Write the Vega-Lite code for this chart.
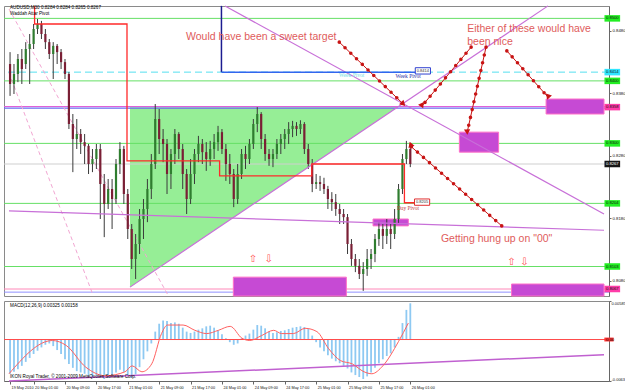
{
  "$schema": "https://vega.github.io/schema/vega-lite/v6.json",
  "padding": {"left": 2, "top": 2, "right": 0, "bottom": 0},
  "bounds": "flush",
  "spacing": 5,
  "background": "white",
  "config": {
    "view": {"stroke": "#8a8a8a", "strokeWidth": 1},
    "axis": {"labelFont": "Liberation Sans", "labelFontSize": 4.3, "labelColor": "#111", "domainColor": "#666", "tickColor": "#666", "tickSize": 2, "grid": false, "labelOverlap": false}
  },
  "datasets": {
    "candles": [
      {"t":-6,"o":0.8427,"h":0.8446,"l":0.8376,"c":0.8395},{"t":-5,"o":0.8395,"h":0.8427,"l":0.8379,"c":0.8411},{"t":-4,"o":0.8411,"h":0.8443,"l":0.8398,"c":0.8435},{"t":-3,"o":0.8435,"h":0.8451,"l":0.8395,"c":0.8419},{"t":-2,"o":0.8427,"h":0.8462,"l":0.8419,"c":0.8451},{"t":-1,"o":0.8451,"h":0.8475,"l":0.8395,"c":0.8459},
      {"t":0,"o":0.8459,"h":0.8491,"l":0.8451,"c":0.8483},{"t":1,"o":0.8483,"h":0.8499,"l":0.8475,"c":0.8491},{"t":2,"o":0.8491,"h":0.8496,"l":0.8467,"c":0.8475},{"t":3,"o":0.8475,"h":0.8483,"l":0.8451,"c":0.8462},{"t":4,"o":0.8462,"h":0.8467,"l":0.8435,"c":0.8443},{"t":5,"o":0.8443,"h":0.8462,"l":0.8403,"c":0.8456},{"t":6,"o":0.8456,"h":0.8459,"l":0.8427,"c":0.8446},{"t":7,"o":0.8446,"h":0.8451,"l":0.8419,"c":0.843},{"t":8,"o":0.843,"h":0.8435,"l":0.8403,"c":0.8411},{"t":9,"o":0.8411,"h":0.8414,"l":0.8323,"c":0.8331},
      {"t":10,"o":0.8331,"h":0.8347,"l":0.8254,"c":0.8307},{"t":11,"o":0.8307,"h":0.8339,"l":0.8291,"c":0.8315},{"t":12,"o":0.8315,"h":0.8323,"l":0.8283,"c":0.8302},{"t":13,"o":0.8302,"h":0.8315,"l":0.8267,"c":0.8296},{"t":14,"o":0.8296,"h":0.8299,"l":0.8251,"c":0.8267},{"t":15,"o":0.8267,"h":0.8291,"l":0.8254,"c":0.8275},{"t":16,"o":0.8275,"h":0.8299,"l":0.8259,"c":0.8291},{"t":17,"o":0.8291,"h":0.8299,"l":0.8179,"c":0.8235},{"t":18,"o":0.8235,"h":0.8251,"l":0.815,"c":0.8203},{"t":19,"o":0.8203,"h":0.8243,"l":0.8195,"c":0.8227},
      {"t":20,"o":0.8227,"h":0.8243,"l":0.8163,"c":0.8211},{"t":21,"o":0.8211,"h":0.8275,"l":0.8203,"c":0.8267},{"t":22,"o":0.8267,"h":0.8302,"l":0.8251,"c":0.8291},{"t":23,"o":0.8291,"h":0.8296,"l":0.8203,"c":0.8219},{"t":24,"o":0.8219,"h":0.8227,"l":0.8147,"c":0.8163},{"t":25,"o":0.8163,"h":0.8171,"l":0.8099,"c":0.8115},{"t":26,"o":0.8115,"h":0.8155,"l":0.8083,"c":0.8139},{"t":27,"o":0.8139,"h":0.8195,"l":0.8123,"c":0.8179},{"t":28,"o":0.8179,"h":0.8211,"l":0.8147,"c":0.8195},{"t":29,"o":0.8195,"h":0.8243,"l":0.8174,"c":0.8227},
      {"t":30,"o":0.8227,"h":0.8283,"l":0.8211,"c":0.8267},{"t":31,"o":0.8267,"h":0.8363,"l":0.8259,"c":0.8339},{"t":32,"o":0.8339,"h":0.8355,"l":0.8283,"c":0.8307},{"t":33,"o":0.8307,"h":0.8323,"l":0.827,"c":0.8299},{"t":34,"o":0.8299,"h":0.8307,"l":0.8219,"c":0.8251},{"t":35,"o":0.8251,"h":0.8291,"l":0.8227,"c":0.8283},{"t":36,"o":0.8283,"h":0.8323,"l":0.8267,"c":0.8315},{"t":37,"o":0.8315,"h":0.8318,"l":0.8275,"c":0.8291},{"t":38,"o":0.8291,"h":0.8299,"l":0.8227,"c":0.8251},{"t":39,"o":0.8251,"h":0.8259,"l":0.8187,"c":0.8211},
      {"t":40,"o":0.8211,"h":0.8275,"l":0.8203,"c":0.8251},{"t":41,"o":0.8251,"h":0.8291,"l":0.8235,"c":0.8283},{"t":42,"o":0.8283,"h":0.8312,"l":0.827,"c":0.8299},{"t":43,"o":0.8299,"h":0.8307,"l":0.8267,"c":0.8286},{"t":44,"o":0.8286,"h":0.8302,"l":0.8256,"c":0.8275},{"t":45,"o":0.8275,"h":0.8304,"l":0.8264,"c":0.8291},{"t":46,"o":0.8291,"h":0.8315,"l":0.8275,"c":0.8302},{"t":47,"o":0.8302,"h":0.8328,"l":0.8288,"c":0.8318},{"t":48,"o":0.8318,"h":0.8323,"l":0.8283,"c":0.8291},{"t":49,"o":0.8291,"h":0.8299,"l":0.824,"c":0.8267},
      {"t":50,"o":0.8267,"h":0.8283,"l":0.8235,"c":0.8251},{"t":51,"o":0.8251,"h":0.8259,"l":0.8198,"c":0.8211},{"t":52,"o":0.8211,"h":0.8267,"l":0.8203,"c":0.8251},{"t":53,"o":0.8251,"h":0.8291,"l":0.8243,"c":0.8283},{"t":54,"o":0.8283,"h":0.8296,"l":0.8259,"c":0.8275},{"t":55,"o":0.8275,"h":0.8307,"l":0.8267,"c":0.8299},{"t":56,"o":0.8299,"h":0.8339,"l":0.8291,"c":0.8331},{"t":57,"o":0.8331,"h":0.8358,"l":0.8318,"c":0.8347},{"t":58,"o":0.8347,"h":0.835,"l":0.8291,"c":0.8307},{"t":59,"o":0.8307,"h":0.8315,"l":0.8272,"c":0.8283},
      {"t":60,"o":0.8283,"h":0.8291,"l":0.8264,"c":0.8275},{"t":61,"o":0.8275,"h":0.8291,"l":0.8262,"c":0.8283},{"t":62,"o":0.8283,"h":0.8307,"l":0.8275,"c":0.8299},{"t":63,"o":0.8299,"h":0.8315,"l":0.8283,"c":0.8307},{"t":64,"o":0.8307,"h":0.8323,"l":0.8291,"c":0.8315},{"t":65,"o":0.8315,"h":0.8334,"l":0.8299,"c":0.8323},{"t":66,"o":0.8323,"h":0.8336,"l":0.831,"c":0.8328},{"t":67,"o":0.8328,"h":0.8334,"l":0.8312,"c":0.8323},{"t":68,"o":0.8323,"h":0.8337,"l":0.8315,"c":0.8331},{"t":69,"o":0.8331,"h":0.8334,"l":0.8283,"c":0.8291},
      {"t":70,"o":0.8291,"h":0.8299,"l":0.8259,"c":0.8267},{"t":71,"o":0.8267,"h":0.8275,"l":0.8222,"c":0.8235},{"t":72,"o":0.8235,"h":0.8251,"l":0.8227,"c":0.8238},{"t":73,"o":0.8238,"h":0.8248,"l":0.8224,"c":0.8235},{"t":74,"o":0.8235,"h":0.8245,"l":0.8219,"c":0.8227},{"t":75,"o":0.8227,"h":0.8232,"l":0.8195,"c":0.8211},{"t":76,"o":0.8211,"h":0.8222,"l":0.8192,"c":0.8206},{"t":77,"o":0.8206,"h":0.8219,"l":0.8184,"c":0.8195},{"t":78,"o":0.8195,"h":0.8203,"l":0.8171,"c":0.8187},{"t":79,"o":0.8187,"h":0.8195,"l":0.8171,"c":0.8182},
      {"t":80,"o":0.8182,"h":0.8187,"l":0.8123,"c":0.8139},{"t":81,"o":0.8139,"h":0.8147,"l":0.8104,"c":0.8115},{"t":82,"o":0.8115,"h":0.8123,"l":0.8094,"c":0.8104},{"t":83,"o":0.8104,"h":0.8115,"l":0.8083,"c":0.8091},{"t":84,"o":0.8091,"h":0.811,"l":0.8064,"c":0.8099},{"t":85,"o":0.8099,"h":0.8131,"l":0.8088,"c":0.8115},{"t":86,"o":0.8115,"h":0.8131,"l":0.8099,"c":0.8123},{"t":87,"o":0.8123,"h":0.8155,"l":0.811,"c":0.8147},{"t":88,"o":0.8147,"h":0.8174,"l":0.8136,"c":0.8163},{"t":89,"o":0.8163,"h":0.8171,"l":0.8131,"c":0.8152},
      {"t":90,"o":0.8152,"h":0.8179,"l":0.8139,"c":0.8163},{"t":91,"o":0.8163,"h":0.8171,"l":0.8131,"c":0.8155},{"t":92,"o":0.8155,"h":0.8195,"l":0.8147,"c":0.8179},{"t":93,"o":0.8179,"h":0.8235,"l":0.8171,"c":0.8227},{"t":94,"o":0.8227,"h":0.8283,"l":0.8219,"c":0.8275},{"t":95,"o":0.8275,"h":0.8304,"l":0.8267,"c":0.8291},{"t":96,"o":0.8291,"h":0.8299,"l":0.8262,"c":0.8267}
    ],
    "tri": [{"t":24.56,"top":0.8358,"bot":0.807},{"t":92.7,"top":0.8358,"bot":0.8358}],
    "levels": [
      {"p":0.85,"k":"green"},{"p":0.84,"k":"green"},{"p":0.83,"k":"green"},{"p":0.8204,"k":"green"},{"p":0.8103,"k":"green"},
      {"p":0.8414,"k":"cyan"},{"p":0.8359,"k":"magenta"},{"p":0.8267,"k":"gray"},{"p":0.8067,"k":"pink"},{"p":0.8062,"k":"lblue"}
    ],
    "bluelevel": [{"p":0.83565}],
    "zones": [
      {"t1":130.6,"t2":145.36,"p1":0.8371,"p2":0.8347},
      {"t1":108.5,"t2":118.5,"p1":0.8318,"p2":0.8286},
      {"t1":86.5,"t2":95.5,"p1":0.8179,"p2":0.8168},
      {"t1":50.9,"t2":79.7,"p1":0.8086,"p2":0.80558},
      {"t1":121.8,"t2":145.36,"p1":0.8075,"p2":0.80558}
    ],
    "plines": [
      {"t1":24.56,"p1":0.807,"t2":131.1,"p2":0.852},
      {"t1":48.8,"p1":0.85198,"t2":145.36,"p2":0.8187},
      {"t1":-6.27,"p1":0.8192,"t2":145.36,"p2":0.8161}
    ],
    "dlines": [
      {"t1":-6.27,"p1":0.8413,"t2":15.04,"p2":0.8059},
      {"t1":-6.27,"p1":0.8515,"t2":34.09,"p2":0.8059}
    ],
    "dayp": [
      {"k":1,"t":0.25,"p":0.852},{"k":2,"t":0.25,"p":0.8491},{"k":3,"t":23.8,"p":0.8491},{"k":4,"t":23.8,"p":0.8272},
      {"k":5,"t":47.4,"p":0.8272},{"k":6,"t":47.4,"p":0.8248},{"k":7,"t":70.9,"p":0.8248},{"k":8,"t":70.9,"p":0.8267},
      {"k":9,"t":94.5,"p":0.8267},{"k":10,"t":94.5,"p":0.8205},{"k":11,"t":97,"p":0.8205}
    ],
    "weekv": [{"t1":47.87,"p1":0.852,"t2":47.87,"p2":0.8414}],
    "weekh": [{"t1":47.87,"p1":0.8414,"t2":98,"p2":0.8414}],
    "arrows": [
      {"id":"a1","t1":77.9,"p1":0.8462,"t2":94.2,"p2":0.8363},
      {"id":"a2","t1":111.5,"p1":0.8454,"t2":99.0,"p2":0.836},
      {"id":"a3","t1":115.3,"p1":0.8454,"t2":110.5,"p2":0.8318},
      {"id":"a4","t1":120.6,"p1":0.8448,"t2":131.1,"p2":0.8374},
      {"id":"a5","t1":119.3,"p1":0.8168,"t2":96.0,"p2":0.8296}
    ],
    "notes": [
      {"t":38.85,"p":0.847,"txt":"Would have been a sweet target"},
      {"t":110.5,"p":0.8483,"txt":"Either of these would have"},
      {"t":110.5,"p":0.8463,"txt":"been nice"},
      {"t":103.8,"p":0.8147,"txt":"Getting hung up on \"00\""}
    ],
    "updown": [
      {"t":55.9,"p":0.8115,"txt":"⇧"},{"t":59.9,"p":0.8115,"txt":"⇩"},
      {"t":121.8,"p":0.811,"txt":"⇧"},{"t":125.1,"p":0.811,"txt":"⇩"}
    ],
    "heads": [
      {"t":-6.0,"p":0.8516,"txt":"AUDUSD,M30  0.8284 0.8284 0.8265 0.8267"},
      {"t":-6.0,"p":0.8507,"txt":"Waddah Attar Pivot"}
    ],
    "weeklabel": [{"t":92.2,"p":0.8408,"txt":"Week Pivot"}],
    "weekcyan": [{"t":77.8,"p":0.8409,"txt":"Week Pivot"}],
    "daylabel": [{"t":92.6,"p":0.8197,"txt":"Day Pivot"}],
    "weekbox": [{"t":99.2,"p":0.8416,"txt":"0.8414"}],
    "daybox": [{"t":99.0,"p":0.8206,"txt":"0.8205"}],
    "tags": [
      {"v":0.85,"k":"green","txt":"0.8500"},{"v":0.8414,"k":"cyan","txt":"0.8414"},{"v":0.84,"k":"green","txt":"0.8400"},
      {"v":0.8358,"k":"pink","txt":"0.8358"},{"v":0.83,"k":"green","txt":"0.8300"},{"v":0.8267,"k":"black","txt":"0.8267"},
      {"v":0.8204,"k":"green","txt":"0.8204"},{"v":0.8103,"k":"green","txt":"0.8103"},{"v":0.8067,"k":"pink","txt":"0.8067"}
    ],
    "macd": [
      {"t":-6,"m":-0.0052},{"t":-5,"m":-0.0049},{"t":-4,"m":-0.0045},{"t":-3,"m":-0.004},{"t":-2,"m":-0.0034},{"t":-1,"m":-0.0028},
      {"t":0,"m":-0.0022},{"t":1,"m":-0.0017},{"t":2,"m":-0.0012},{"t":3,"m":-0.0008},{"t":4,"m":-0.0006},{"t":5,"m":-0.001},{"t":6,"m":-0.0016},{"t":7,"m":-0.0022},{"t":8,"m":-0.003},{"t":9,"m":-0.0037},
      {"t":10,"m":-0.0043},{"t":11,"m":-0.0048},{"t":12,"m":-0.005},{"t":13,"m":-0.0052},{"t":14,"m":-0.0055},{"t":15,"m":-0.0057},{"t":16,"m":-0.0054},{"t":17,"m":-0.0056},{"t":18,"m":-0.006},{"t":19,"m":-0.0058},
      {"t":20,"m":-0.0055},{"t":21,"m":-0.005},{"t":22,"m":-0.0046},{"t":23,"m":-0.0049},{"t":24,"m":-0.0055},{"t":25,"m":-0.0058},{"t":26,"m":-0.0053},{"t":27,"m":-0.0042},{"t":28,"m":-0.003},{"t":29,"m":-0.0018},
      {"t":30,"m":-0.0006},{"t":31,"m":0.0012},{"t":32,"m":0.0024},{"t":33,"m":0.0029},{"t":34,"m":0.0028},{"t":35,"m":0.0025},{"t":36,"m":0.0026},{"t":37,"m":0.0024},{"t":38,"m":0.0018},{"t":39,"m":0.0012},
      {"t":40,"m":0.001},{"t":41,"m":0.0012},{"t":42,"m":0.0015},{"t":43,"m":0.0017},{"t":44,"m":0.002},{"t":45,"m":0.0021},{"t":46,"m":0.0018},{"t":47,"m":0.0014},{"t":48,"m":0.0008},{"t":49,"m":0.0002},
      {"t":50,"m":-0.0004},{"t":51,"m":-0.0008},{"t":52,"m":-0.0006},{"t":53,"m":0.0002},{"t":54,"m":0.0006},{"t":55,"m":0.0009},{"t":56,"m":0.0015},{"t":57,"m":0.0022},{"t":58,"m":0.0021},{"t":59,"m":0.0017},
      {"t":60,"m":0.0012},{"t":61,"m":0.001},{"t":62,"m":0.0011},{"t":63,"m":0.0013},{"t":64,"m":0.0014},{"t":65,"m":0.0016},{"t":66,"m":0.0018},{"t":67,"m":0.0019},{"t":68,"m":0.002},{"t":69,"m":0.0019},
      {"t":70,"m":0.0016},{"t":71,"m":0.0006},{"t":72,"m":-0.0004},{"t":73,"m":-0.0012},{"t":74,"m":-0.0018},{"t":75,"m":-0.0024},{"t":76,"m":-0.0029},{"t":77,"m":-0.0033},{"t":78,"m":-0.0036},{"t":79,"m":-0.004},
      {"t":80,"m":-0.0044},{"t":81,"m":-0.005},{"t":82,"m":-0.0054},{"t":83,"m":-0.0057},{"t":84,"m":-0.006},{"t":85,"m":-0.0056},{"t":86,"m":-0.005},{"t":87,"m":-0.0043},{"t":88,"m":-0.0036},{"t":89,"m":-0.003},
      {"t":90,"m":-0.0025},{"t":91,"m":-0.0021},{"t":92,"m":-0.0012},{"t":93,"m":0.0004},{"t":94,"m":0.0025},{"t":95,"m":0.0045},{"t":96,"m":0.0055}
    ],
    "signal": [
      {"t":-6.27,"s":-0.0052},{"t":4.8,"s":-0.00015},{"t":8.3,"s":-0.0009},{"t":13.3,"s":-0.0042},{"t":18.3,"s":-0.0055},{"t":23.3,"s":-0.0049},{"t":25.1,"s":-0.004},{"t":27.6,"s":-0.0049},{"t":30.1,"s":-0.0037},{"t":32.6,"s":0.0009},{"t":34.1,"s":0.0022},{"t":38.1,"s":0.0022},{"t":41.1,"s":0.0014},{"t":44.1,"s":0.0009},{"t":47.1,"s":0.0014},{"t":50.1,"s":0.002},{"t":53.1,"s":0.0002},{"t":55.1,"s":-0.00015},{"t":58.1,"s":0.0006},{"t":61.2,"s":0.0014},{"t":63.2,"s":0.0009},{"t":66.2,"s":0.0009},{"t":69.2,"s":0.0017},{"t":72.2,"s":0.0012},{"t":75.2,"s":-0.0014},{"t":78.2,"s":-0.0032},{"t":81.2,"s":-0.0037},{"t":84.2,"s":-0.0049},{"t":86.2,"s":-0.0052},{"t":89.0,"s":-0.004},{"t":93.0,"s":-0.0003},{"t":95.5,"s":0.0025}
    ],
    "zero": [{"v":0,"txt":"0.00"}],
    "mtrend": [{"t1":-6.27,"v1":-0.0063,"t2":145.36,"v2":-0.0023}],
    "mtext": [
      {"t":-6.0,"v":0.0051,"txt":"MACD(12,26,9) 0.00325 0.00158"},
      {"t":-6.0,"v":-0.0057,"txt":"IKON Royal Trader, © 2001-2009 MetaQuotes Software Corp."}
    ]
  },
  "vconcat": [
    {
      "width": 605,
      "height": 290,
      "resolve": {"scale": {"color": "independent", "stroke": "independent", "angle": "independent"}},
      "layer": [
        {
          "data": {"name": "tri"},
          "mark": {"type": "area", "color": "#96ee96", "opacity": 1},
          "encoding": {
            "x": {"field": "t", "type": "quantitative", "title": null, "axis": null, "scale": {"domain": [-6.27, 145.36], "nice": false, "zero": false}},
            "y": {"field": "top", "type": "quantitative", "title": null, "scale": {"domain": [0.80558, 0.85198], "nice": false, "zero": false},
              "axis": {"orient": "right", "values": [0.8055,0.808,0.8105,0.813,0.8155,0.818,0.8205,0.823,0.8255,0.828,0.8305,0.833,0.8355,0.838,0.8405,0.843,0.8455,0.848], "format": ".4f", "labelPadding": 1}},
            "y2": {"field": "bot"}
          }
        },
        {
          "data": {"name": "levels"},
          "mark": {"type": "rule", "strokeWidth": 1},
          "encoding": {
            "y": {"field": "p", "type": "quantitative", "title": null},
            "color": {"field": "k", "type": "nominal", "legend": null, "scale": {"domain": ["green","cyan","magenta","gray","pink","lblue"], "range": ["#66e066","#55dff0","#e060d8","#cfcfcf","#ff88b8","#9090ff"]}},
            "strokeDash": {"field": "k", "type": "nominal", "legend": null, "scale": {"domain": ["green","cyan","magenta","gray","pink","lblue"], "range": [[1,0],[7,4],[1,0],[1,0],[1,0],[1,0]]}}
          }
        },
        {
          "data": {"name": "bluelevel"},
          "mark": {"type": "rule", "strokeWidth": 1.2, "color": "#6a6af0"},
          "encoding": {"y": {"field": "p", "type": "quantitative", "title": null}}
        },
        {
          "data": {"name": "zones"},
          "mark": {"type": "rect", "fill": "#c64ad4", "stroke": "#ff70c8", "strokeWidth": 1},
          "encoding": {
            "x": {"field": "t1", "type": "quantitative", "title": null, "axis": null}, "x2": {"field": "t2"},
            "y": {"field": "p1", "type": "quantitative", "title": null}, "y2": {"field": "p2"}
          }
        },
        {
          "data": {"name": "dlines"},
          "mark": {"type": "rule", "color": "#f2a6d2", "strokeWidth": 1, "strokeDash": [4, 3]},
          "encoding": {
            "x": {"field": "t1", "type": "quantitative", "title": null, "axis": null}, "x2": {"field": "t2"},
            "y": {"field": "p1", "type": "quantitative", "title": null}, "y2": {"field": "p2"}
          }
        },
        {
          "data": {"name": "candles"},
          "mark": {"type": "rule", "color": "#3a3a3a", "strokeWidth": 1},
          "encoding": {
            "x": {"field": "t", "type": "quantitative", "title": null, "axis": null},
            "y": {"field": "l", "type": "quantitative", "title": null}, "y2": {"field": "h"}
          }
        },
        {
          "data": {"name": "candles"},
          "mark": {"type": "bar", "width": 2.2},
          "encoding": {
            "x": {"field": "t", "type": "quantitative", "title": null, "axis": null},
            "y": {"field": "o", "type": "quantitative", "title": null}, "y2": {"field": "c"},
            "color": {"condition": {"test": "datum.c >= datum.o", "value": "#2f7d2f"}, "value": "#7a1f35"}
          }
        },
        {
          "data": {"name": "plines"},
          "mark": {"type": "rule", "color": "#c870d8", "strokeWidth": 1.2},
          "encoding": {
            "x": {"field": "t1", "type": "quantitative", "title": null, "axis": null}, "x2": {"field": "t2"},
            "y": {"field": "p1", "type": "quantitative", "title": null}, "y2": {"field": "p2"}
          }
        },
        {
          "data": {"name": "dayp"},
          "mark": {"type": "line", "color": "#ff2a2a", "strokeWidth": 1.3},
          "encoding": {
            "x": {"field": "t", "type": "quantitative", "title": null, "axis": null},
            "y": {"field": "p", "type": "quantitative", "title": null},
            "order": {"field": "k", "type": "quantitative"}
          }
        },
        {
          "data": {"name": "weekv"},
          "mark": {"type": "rule", "strokeWidth": 1.5, "color": "#1c1c90"},
          "encoding": {
            "x": {"field": "t1", "type": "quantitative", "title": null, "axis": null}, "x2": {"field": "t2"},
            "y": {"field": "p1", "type": "quantitative", "title": null}, "y2": {"field": "p2"}
          }
        },
        {
          "data": {"name": "weekh"},
          "mark": {"type": "rule", "strokeWidth": 1.5, "color": "#3366ee"},
          "encoding": {
            "x": {"field": "t1", "type": "quantitative", "title": null, "axis": null}, "x2": {"field": "t2"},
            "y": {"field": "p1", "type": "quantitative", "title": null}, "y2": {"field": "p2"}
          }
        },
        {
          "data": {"name": "arrows"},
          "mark": {"type": "rule", "color": "#c81414", "strokeWidth": 1},
          "encoding": {
            "x": {"field": "t1", "type": "quantitative", "title": null, "axis": null}, "x2": {"field": "t2"},
            "y": {"field": "p1", "type": "quantitative", "title": null}, "y2": {"field": "p2"}
          }
        },
        {
          "data": {"name": "arrows"},
          "mark": {"type": "rule", "color": "#c81414", "strokeWidth": 3.6, "strokeCap": "round", "strokeDash": [0, 8]},
          "encoding": {
            "x": {"field": "t1", "type": "quantitative", "title": null, "axis": null}, "x2": {"field": "t2"},
            "y": {"field": "p1", "type": "quantitative", "title": null}, "y2": {"field": "p2"}
          }
        },
        {
          "data": {"name": "arrows"},
          "mark": {"type": "point", "shape": "triangle-up", "filled": true, "size": 40, "color": "#c81414", "opacity": 1},
          "encoding": {
            "x": {"field": "t2", "type": "quantitative", "title": null, "axis": null},
            "y": {"field": "p2", "type": "quantitative", "title": null},
            "angle": {"field": "id", "type": "nominal", "legend": null, "scale": {"domain": ["a1","a2","a3","a4","a5"], "range": [134, 220, 193, 138, 311]}}
          }
        },
        {
          "data": {"name": "notes"},
          "mark": {"type": "text", "font": "Liberation Sans", "fontSize": 10.5, "color": "#e05c5c", "align": "left", "baseline": "middle"},
          "encoding": {
            "x": {"field": "t", "type": "quantitative", "title": null, "axis": null},
            "y": {"field": "p", "type": "quantitative", "title": null},
            "text": {"field": "txt"}
          }
        },
        {
          "data": {"name": "updown"},
          "mark": {"type": "text", "font": "DejaVu Sans", "fontSize": 10, "color": "#ff5050", "align": "center", "baseline": "middle"},
          "encoding": {
            "x": {"field": "t", "type": "quantitative", "title": null, "axis": null},
            "y": {"field": "p", "type": "quantitative", "title": null},
            "text": {"field": "txt"}
          }
        },
        {
          "data": {"name": "heads"},
          "mark": {"type": "text", "font": "Liberation Sans", "fontSize": 4.6, "color": "#000", "align": "left", "baseline": "middle"},
          "encoding": {
            "x": {"field": "t", "type": "quantitative", "title": null, "axis": null},
            "y": {"field": "p", "type": "quantitative", "title": null},
            "text": {"field": "txt"}
          }
        },
        {
          "data": {"name": "weekcyan"},
          "mark": {"type": "text", "font": "Liberation Serif", "fontSize": 5.5, "align": "left", "baseline": "middle", "color": "#70e0e0"},
          "encoding": {
            "x": {"field": "t", "type": "quantitative", "title": null, "axis": null},
            "y": {"field": "p", "type": "quantitative", "title": null},
            "text": {"field": "txt"}
          }
        },
        {
          "data": {"name": "weeklabel"},
          "mark": {"type": "text", "font": "Liberation Serif", "fontSize": 5.5, "align": "left", "baseline": "middle", "color": "#2a2aa0"},
          "encoding": {
            "x": {"field": "t", "type": "quantitative", "title": null, "axis": null},
            "y": {"field": "p", "type": "quantitative", "title": null},
            "text": {"field": "txt"}
          }
        },
        {
          "data": {"name": "daylabel"},
          "mark": {"type": "text", "font": "Liberation Serif", "fontSize": 5.5, "align": "left", "baseline": "middle", "color": "#c04040"},
          "encoding": {
            "x": {"field": "t", "type": "quantitative", "title": null, "axis": null},
            "y": {"field": "p", "type": "quantitative", "title": null},
            "text": {"field": "txt"}
          }
        },
        {
          "data": {"name": "weekbox"},
          "mark": {"type": "point", "shape": "M-1.2,-0.5H1.2V0.5H-1.2Z", "size": 160, "filled": false, "strokeWidth": 1, "fill": "white", "fillOpacity": 1, "opacity": 1, "stroke": "#3040d0"},
          "encoding": {
            "x": {"field": "t", "type": "quantitative", "title": null, "axis": null},
            "y": {"field": "p", "type": "quantitative", "title": null}
          }
        },
        {
          "data": {"name": "daybox"},
          "mark": {"type": "point", "shape": "M-1.2,-0.5H1.2V0.5H-1.2Z", "size": 160, "filled": false, "strokeWidth": 1, "fill": "white", "fillOpacity": 1, "opacity": 1, "stroke": "#e03030"},
          "encoding": {
            "x": {"field": "t", "type": "quantitative", "title": null, "axis": null},
            "y": {"field": "p", "type": "quantitative", "title": null}
          }
        },
        {
          "data": {"name": "weekbox"},
          "mark": {"type": "text", "font": "Liberation Sans", "fontSize": 4, "align": "center", "baseline": "middle", "color": "#333"},
          "encoding": {
            "x": {"field": "t", "type": "quantitative", "title": null, "axis": null},
            "y": {"field": "p", "type": "quantitative", "title": null},
            "text": {"field": "txt"}
          }
        },
        {
          "data": {"name": "daybox"},
          "mark": {"type": "text", "font": "Liberation Sans", "fontSize": 4, "align": "center", "baseline": "middle", "color": "#333"},
          "encoding": {
            "x": {"field": "t", "type": "quantitative", "title": null, "axis": null},
            "y": {"field": "p", "type": "quantitative", "title": null},
            "text": {"field": "txt"}
          }
        },
        {
          "data": {"name": "tags"},
          "mark": {"type": "point", "shape": "M-1.2,-0.5H1.2V0.5H-1.2Z", "size": 170, "filled": true, "opacity": 1, "xOffset": 8.3},
          "encoding": {
            "x": {"datum": 145.36, "type": "quantitative", "axis": null},
            "y": {"field": "v", "type": "quantitative", "title": null},
            "color": {"field": "k", "type": "nominal", "legend": null, "scale": {"domain": ["green","cyan","pink","black"], "range": ["#22ee22","#30e6ff","#ff3ca8","#151515"]}}
          }
        },
        {
          "data": {"name": "tags"},
          "mark": {"type": "text", "font": "Liberation Sans", "fontSize": 4.2, "align": "center", "baseline": "middle", "xOffset": 8.3},
          "encoding": {
            "x": {"datum": 145.36, "type": "quantitative", "axis": null},
            "y": {"field": "v", "type": "quantitative", "title": null},
            "text": {"field": "txt"},
            "color": {"condition": {"test": "datum.k === 'black'", "value": "#ffffff"}, "value": "#111111"}
          }
        }
      ]
    },
    {
      "width": 605,
      "height": 80,
      "layer": [
        {
          "data": {"name": "macd"},
          "mark": {"type": "bar", "width": 1.8, "color": "#8ec9f2"},
          "encoding": {
            "x": {"field": "t", "type": "quantitative", "title": null, "scale": {"domain": [-6.27, 145.36], "nice": false, "zero": false},
              "axis": {"orient": "bottom", "values": [-6,0,8,16,24,32,40,48,56,64,72,80,88,96], "labelAlign": "left", "labelBaseline": "top", "labelPadding": 1, "labelOffset": 1, "tickSize": 3, "labelFontSize": 3.8, "labelFlush": false,
                "labelExpr": "datum.value < 0 ? '19 May 2010' : ['20 May 01:00','20 May 09:00','20 May 17:00','21 May 01:00','21 May 09:00','21 May 17:00','24 May 01:00','24 May 09:00','24 May 17:00','25 May 01:00','25 May 09:00','25 May 17:00','26 May 01:00'][round(datum.value / 8)]"}},
            "y": {"field": "m", "type": "quantitative", "title": null, "scale": {"domain": [-0.0063, 0.00585], "nice": false, "zero": false},
              "axis": {"orient": "right", "values": [0.00585, -0.0063], "labelExpr": "datum.value > 0 ? '0.00585' : '-0.0063'", "labelFlush": true, "labelPadding": 0, "labelFontSize": 4}},
            "y2": {"datum": 0}
          }
        },
        {
          "data": {"name": "zero"},
          "mark": {"type": "rule", "color": "#ff4a4a", "strokeWidth": 1},
          "encoding": {"y": {"field": "v", "type": "quantitative", "title": null}}
        },
        {
          "data": {"name": "mtrend"},
          "mark": {"type": "rule", "color": "#c060d0", "strokeWidth": 1.5},
          "encoding": {
            "x": {"field": "t1", "type": "quantitative", "title": null}, "x2": {"field": "t2"},
            "y": {"field": "v1", "type": "quantitative", "title": null}, "y2": {"field": "v2"}
          }
        },
        {
          "data": {"name": "signal"},
          "mark": {"type": "line", "color": "#ff6060", "strokeWidth": 1, "interpolate": "monotone"},
          "encoding": {
            "x": {"field": "t", "type": "quantitative", "title": null},
            "y": {"field": "s", "type": "quantitative", "title": null}
          }
        },
        {
          "data": {"name": "mtext"},
          "mark": {"type": "text", "font": "Liberation Sans", "fontSize": 4.6, "color": "#000", "align": "left", "baseline": "middle"},
          "encoding": {
            "x": {"field": "t", "type": "quantitative", "title": null},
            "y": {"field": "v", "type": "quantitative", "title": null},
            "text": {"field": "txt"}
          }
        },
        {
          "data": {"name": "zero"},
          "mark": {"type": "point", "shape": "M-1.2,-0.5H1.2V0.5H-1.2Z", "size": 60, "filled": true, "opacity": 1, "color": "#ff3030", "xOffset": 5},
          "encoding": {
            "x": {"datum": 145.36, "type": "quantitative"},
            "y": {"field": "v", "type": "quantitative", "title": null}
          }
        },
        {
          "data": {"name": "zero"},
          "mark": {"type": "text", "font": "Liberation Sans", "fontSize": 4.2, "align": "left", "baseline": "middle", "xOffset": 2, "color": "#111"},
          "encoding": {
            "x": {"datum": 145.36, "type": "quantitative"},
            "y": {"field": "v", "type": "quantitative", "title": null},
            "text": {"field": "txt"}
          }
        }
      ]
    }
  ]
}
